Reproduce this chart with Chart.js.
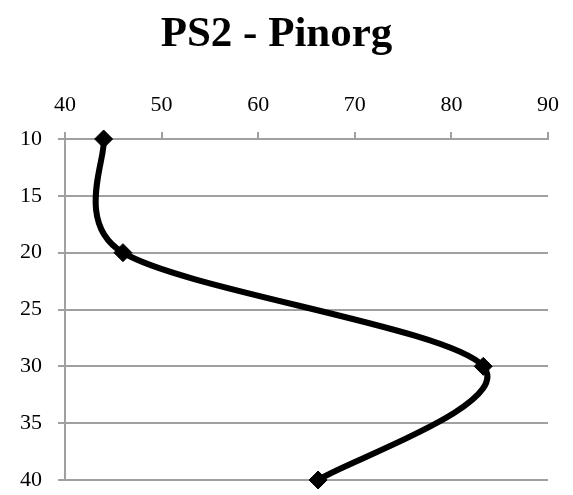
<!DOCTYPE html>
<html>
<head>
<meta charset="utf-8">
<script src="https://cdn.jsdelivr.net/npm/chart.js@4/dist/chart.umd.min.js"></script>
<style>
  html, body { margin: 0; padding: 0; background: #fff; }
  #wrap { width: 573px; height: 495px; }
</style>
</head>
<body>
<div id="wrap"><canvas id="chart" width="573" height="495"></canvas></div>
<script>
// depth (cm) and Pinorg values
let depths = [10, 20, 30, 40];
let pinorg = [44, 46, 83.3, 66.2];

let xTicks = [40, 50, 60, 70, 80, 90];
let yTicks = [10, 15, 20, 25, 30, 35, 40];

let points = [];
for (let i in depths) {
    points.push({ x: pinorg[i], y: depths[i] });
}

const serif = "'Liberation Serif', 'DejaVu Serif', serif";
const gridColor = "#a0a0a0";

// spreadsheet-style smoothing: catmull-rom arms (1/6), capped to half the segment
const smoothLine = {
    id: "smoothLine",
    beforeDatasetDraw(chart, args) {
        let meta = args.meta;
        let pts = meta.data;
        meta.dataset.updateControlPoints(chart.chartArea, meta.indexAxis);
        for (let i = 0; i < pts.length; i++) {
            let p = pts[i];
            let prev = pts[Math.max(i - 1, 0)];
            let next = pts[Math.min(i + 1, pts.length - 1)];
            let dx = (next.x - prev.x) / 6;
            let dy = (next.y - prev.y) / 6;
            let arm = Math.hypot(dx, dy) || 1;
            let back = Math.min(arm, Math.hypot(p.x - prev.x, p.y - prev.y) / 2) / arm;
            let fwd = Math.min(arm, Math.hypot(next.x - p.x, next.y - p.y) / 2) / arm;
            p.cp1x = p.x - dx * back;
            p.cp1y = p.y - dy * back;
            p.cp2x = p.x + dx * fwd;
            p.cp2y = p.y + dy * fwd;
        }
        meta.dataset._path = undefined;
    }
};

new Chart(document.getElementById("chart").getContext("2d"), {
    type: "scatter",
    data: {
        datasets: [{
            label: "PS2 - Pinorg",
            data: points,
            showLine: true,
            clip: false,
            borderColor: "#000",
            backgroundColor: "#000",
            borderWidth: 6,
            tension: 0.4,
            pointStyle: "rectRot",
            pointRadius: 9,
            pointBorderWidth: 1,
            pointBackgroundColor: "#000",
            pointBorderColor: "#000"
        }]
    },
    options: {
        responsive: false,
        animation: false,
        layout: { padding: { left: 4, right: 24, bottom: 0, top: 0 } },
        plugins: {
            legend: { display: false },
            tooltip: { enabled: false },
            title: {
                display: true,
                text: "PS2 - Pinorg",
                color: "#000",
                font: { family: serif, size: 43, weight: "bold" },
                padding: { top: 9, bottom: 17 }
            }
        },
        scales: {
            x: {
                type: "linear",
                position: "top",
                min: 40,
                max: 90,
                afterBuildTicks: (axis) => { axis.ticks = xTicks.map(v => ({ value: v })); },
                ticks: { color: "#000", font: { family: serif, size: 22 }, padding: 14 },
                grid: { drawOnChartArea: false, drawTicks: true, tickLength: 7, color: gridColor, lineWidth: 2 },
                border: { display: true, color: gridColor, width: 2 }
            },
            y: {
                type: "linear",
                reverse: true,
                min: 10,
                max: 40,
                afterBuildTicks: (axis) => { axis.ticks = yTicks.map(v => ({ value: v })); },
                // tick padding is added to the bottom padding too, so trim it back
                afterFit: (axis) => { axis.paddingBottom = 15; axis.paddingTop = 13; },
                ticks: { color: "#000", font: { family: serif, size: 22 }, padding: 16 },
                grid: { drawOnChartArea: true, drawTicks: true, tickLength: 7, color: gridColor, lineWidth: 2 },
                border: { display: true, color: gridColor, width: 2 }
            }
        }
    },
    plugins: [smoothLine]
});
</script>
</body>
</html>
